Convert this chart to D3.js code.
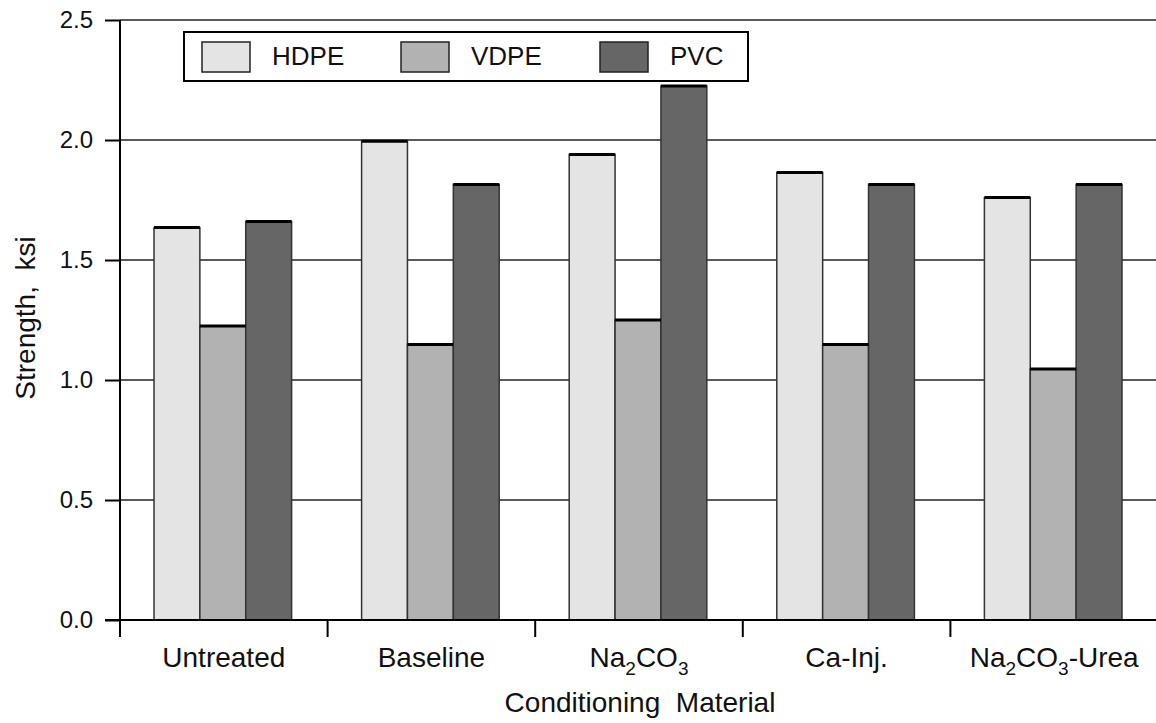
<!DOCTYPE html>
<html>
<head>
<meta charset="utf-8">
<script src="https://cdn.jsdelivr.net/npm/d3@7"></script>
<style>
  body { margin: 0; background: #fff; }
  svg { display: block; font-family: "Liberation Sans", Arial, Helvetica, sans-serif; }
</style>
</head>
<body>
<svg id="chart" width="1156" height="723"></svg>
<script>
// Data
const categories = ["Untreated", "Baseline", "Na2CO3", "Ca-Inj.", "Na2CO3-Urea"];
const series = ["HDPE", "VDPE", "PVC"];
const hdpe = [1.635, 1.995, 1.94, 1.865, 1.76];
const vdpe = [1.225, 1.148, 1.25, 1.148, 1.046];
const pvc = [1.66, 1.815, 2.225, 1.815, 1.815];
const yTicks = [0, 0.5, 1.0, 1.5, 2.0, 2.5];
const colors = ["#e4e4e4", "#b2b2b2", "#666666"];

const values = { HDPE: hdpe, VDPE: vdpe, PVC: pvc };

const margin = { top: 20, right: -2, bottom: 103, left: 120 };
const width = 1156 - margin.left - margin.right;
const height = 723 - margin.top - margin.bottom;

const svg = d3.select("#chart")
  .append("g")
  .attr("transform", `translate(${margin.left},${margin.top})`);

const x0 = d3.scaleBand().domain(categories).range([0, width]);
const x1 = d3.scaleBand().domain(series).range([34, x0.bandwidth() - 36]);
const y = d3.scaleLinear().domain([0, 2.5]).range([height, 0]);
const color = d3.scaleOrdinal().domain(series).range(colors);

// gridlines
svg.append("g")
  .selectAll("line")
  .data(yTicks.filter(d => d > 0))
  .join("line")
  .attr("x1", 0)
  .attr("x2", 1156 - margin.left)
  .attr("y1", d => y(d))
  .attr("y2", d => y(d))
  .style("stroke", "#222")
  .style("stroke-width", 1.3);

// bars
const data = [];
categories.forEach((c, i) => {
  series.forEach(s => data.push({ c, s, v: values[s][i] }));
});

const bars = svg.append("g");
bars.selectAll("rect")
  .data(data)
  .join("rect")
  .attr("x", d => x0(d.c) + x1(d.s))
  .attr("y", d => y(d.v))
  .attr("width", x1.bandwidth())
  .attr("height", d => height - y(d.v))
  .style("fill", d => color(d.s))
  .style("stroke", "#333")
  .style("stroke-width", 1.5);

bars.selectAll("line")
  .data(data)
  .join("line")
  .attr("x1", d => x0(d.c) + x1(d.s))
  .attr("x2", d => x0(d.c) + x1(d.s) + x1.bandwidth())
  .attr("y1", d => y(d.v))
  .attr("y2", d => y(d.v))
  .style("stroke", "#000")
  .style("stroke-width", 3);

// y axis
const yAxis = svg.append("g")
  .call(d3.axisLeft(y).tickValues(yTicks).tickFormat(d3.format(".1f")).tickSize(15).tickPadding(12));
yAxis.select(".domain").remove();
yAxis.selectAll("line").style("stroke", "#000").style("stroke-width", 2);
yAxis.selectAll("text")
  .attr("dy", "0.33em")
  .style("font-size", "24px")
  .style("font-family", "Liberation Sans, Arial, sans-serif")
  .style("fill", "#111");
svg.append("line")
  .attr("x1", 0).attr("x2", 0)
  .attr("y1", 0).attr("y2", height)
  .style("stroke", "#000").style("stroke-width", 2);

// x axis
svg.append("line")
  .attr("x1", -15).attr("x2", 1156 - margin.left)
  .attr("y1", height).attr("y2", height)
  .style("stroke", "#000").style("stroke-width", 2);

svg.append("g")
  .selectAll("line")
  .data(categories)
  .join("line")
  .attr("x1", d => x0(d))
  .attr("x2", d => x0(d))
  .attr("y1", height)
  .attr("y2", height + 17)
  .style("stroke", "#000")
  .style("stroke-width", 2);

// category labels with subscripts
const labelParts = {
  "Untreated": [["Untreated", false]],
  "Baseline": [["Baseline", false]],
  "Na2CO3": [["Na", false], ["2", true], ["CO", false], ["3", true]],
  "Ca-Inj.": [["Ca-Inj.", false]],
  "Na2CO3-Urea": [["Na", false], ["2", true], ["CO", false], ["3", true], ["-Urea", false]]
};

const labels = svg.append("g")
  .selectAll("text")
  .data(categories)
  .join("text")
  .attr("x", d => x0(d) + x0.bandwidth() / 2)
  .attr("y", height + 47)
  .attr("text-anchor", "middle")
  .style("font-size", "28px")
  .style("fill", "#111");

labels.each(function (d) {
  const t = d3.select(this);
  let sub = false;
  labelParts[d].forEach(([txt, isSub]) => {
    let dy = 0;
    if (isSub && !sub) dy = 8;
    if (!isSub && sub) dy = -8;
    sub = isSub;
    t.append("tspan")
      .attr("dy", dy)
      .style("font-size", isSub ? "19px" : "28px")
      .text(txt);
  });
});

// axis titles
svg.append("text")
  .attr("x", 520)
  .attr("y", height + 92)
  .attr("text-anchor", "middle")
  .style("font-size", "28px")
  .style("fill", "#111")
  .style("white-space", "pre")
  .text("Conditioning  Material");

svg.append("text")
  .attr("transform", `translate(${-85},${298}) rotate(-90)`)
  .attr("text-anchor", "middle")
  .style("font-size", "28px")
  .style("fill", "#111")
  .style("white-space", "pre")
  .text("Strength,  ksi");

// legend
const legend = svg.append("g").attr("transform", "translate(64,12)");
legend.append("rect")
  .attr("width", 564)
  .attr("height", 49)
  .style("fill", "#fff")
  .style("stroke", "#000")
  .style("stroke-width", 2);

const legendX = [18, 217, 416];
const items = legend.selectAll("g.item")
  .data(series)
  .join("g")
  .attr("class", "item")
  .attr("transform", (d, i) => `translate(${legendX[i]},10)`);

items.append("rect")
  .attr("width", 48)
  .attr("height", 30)
  .style("fill", d => color(d))
  .style("stroke", "#222")
  .style("stroke-width", 1.5);

items.append("text")
  .attr("x", 70)
  .attr("y", 23)
  .style("font-size", "26px")
  .style("fill", "#111")
  .text(d => d);
</script>
</body>
</html>
